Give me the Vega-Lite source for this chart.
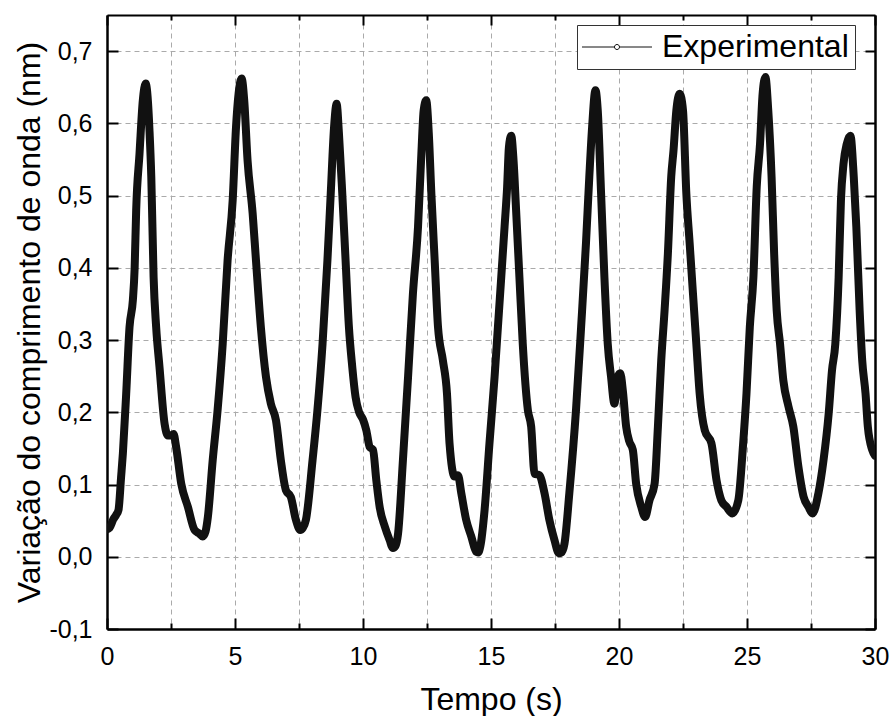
{
  "$schema": "https://vega.github.io/schema/vega-lite/v6.json",
  "width": 768,
  "height": 614,
  "autosize": "none",
  "padding": {"left": 107, "top": 15, "right": 15, "bottom": 87},
  "background": "white",
  "config": {
    "view": {"stroke": null},
    "font": "Liberation Sans",
    "axis": {"labelFont": "Liberation Sans", "titleFont": "Liberation Sans", "labelColor": "#000", "titleColor": "#000", "titleFontWeight": "normal"}
  },
  "data": {"values": [
    {"t":0.0,"v":0.038},{"t":0.1,"v":0.040},{"t":0.25,"v":0.052},{"t":0.36,"v":0.058},{"t":0.45,"v":0.065},{"t":0.55,"v":0.110},{"t":0.62,"v":0.143},{"t":0.75,"v":0.226},{"t":0.88,"v":0.318},{"t":1.01,"v":0.355},{"t":1.08,"v":0.40},{"t":1.14,"v":0.48},{"t":1.27,"v":0.558},{"t":1.40,"v":0.632},{"t":1.51,"v":0.655},{"t":1.60,"v":0.630},{"t":1.66,"v":0.59},{"t":1.73,"v":0.526},{"t":1.82,"v":0.387},{"t":1.92,"v":0.318},{"t":2.05,"v":0.263},{"t":2.25,"v":0.184},{"t":2.38,"v":0.168},{"t":2.50,"v":0.168},{"t":2.60,"v":0.170},{"t":2.70,"v":0.152},{"t":2.90,"v":0.101},{"t":3.16,"v":0.069},{"t":3.42,"v":0.037},{"t":3.61,"v":0.032},{"t":3.74,"v":0.028},{"t":3.85,"v":0.035},{"t":3.94,"v":0.055},{"t":4.13,"v":0.134},{"t":4.32,"v":0.203},{"t":4.52,"v":0.295},{"t":4.71,"v":0.41},{"t":4.91,"v":0.494},{"t":5.04,"v":0.595},{"t":5.14,"v":0.641},{"t":5.26,"v":0.662},{"t":5.36,"v":0.632},{"t":5.49,"v":0.549},{"t":5.69,"v":0.475},{"t":5.82,"v":0.41},{"t":6.01,"v":0.318},{"t":6.21,"v":0.249},{"t":6.40,"v":0.212},{"t":6.60,"v":0.189},{"t":6.79,"v":0.134},{"t":6.99,"v":0.092},{"t":7.18,"v":0.083},{"t":7.38,"v":0.051},{"t":7.55,"v":0.037},{"t":7.65,"v":0.040},{"t":7.77,"v":0.051},{"t":8.03,"v":0.134},{"t":8.22,"v":0.203},{"t":8.42,"v":0.295},{"t":8.61,"v":0.41},{"t":8.74,"v":0.503},{"t":8.87,"v":0.595},{"t":8.97,"v":0.627},{"t":9.06,"v":0.586},{"t":9.19,"v":0.503},{"t":9.32,"v":0.41},{"t":9.45,"v":0.318},{"t":9.58,"v":0.263},{"t":9.71,"v":0.221},{"t":9.85,"v":0.200},{"t":10.0,"v":0.190},{"t":10.13,"v":0.175},{"t":10.26,"v":0.152},{"t":10.39,"v":0.148},{"t":10.52,"v":0.106},{"t":10.65,"v":0.069},{"t":10.85,"v":0.042},{"t":11.04,"v":0.023},{"t":11.17,"v":0.012},{"t":11.27,"v":0.015},{"t":11.37,"v":0.032},{"t":11.56,"v":0.134},{"t":11.76,"v":0.249},{"t":11.95,"v":0.364},{"t":12.15,"v":0.457},{"t":12.28,"v":0.558},{"t":12.37,"v":0.618},{"t":12.47,"v":0.632},{"t":12.57,"v":0.586},{"t":12.67,"v":0.503},{"t":12.8,"v":0.41},{"t":12.93,"v":0.318},{"t":13.12,"v":0.272},{"t":13.28,"v":0.226},{"t":13.38,"v":0.157},{"t":13.58,"v":0.111},{"t":13.71,"v":0.113},{"t":13.84,"v":0.088},{"t":14.03,"v":0.051},{"t":14.23,"v":0.028},{"t":14.42,"v":0.007},{"t":14.5,"v":0.006},{"t":14.58,"v":0.014},{"t":14.75,"v":0.065},{"t":14.94,"v":0.157},{"t":15.14,"v":0.249},{"t":15.27,"v":0.318},{"t":15.4,"v":0.387},{"t":15.53,"v":0.457},{"t":15.63,"v":0.512},{"t":15.7,"v":0.567},{"t":15.79,"v":0.583},{"t":15.88,"v":0.549},{"t":15.98,"v":0.48},{"t":16.11,"v":0.387},{"t":16.24,"v":0.295},{"t":16.44,"v":0.203},{"t":16.57,"v":0.18},{"t":16.7,"v":0.115},{"t":16.89,"v":0.113},{"t":17.09,"v":0.088},{"t":17.28,"v":0.051},{"t":17.48,"v":0.023},{"t":17.65,"v":0.005},{"t":17.75,"v":0.006},{"t":17.87,"v":0.018},{"t":18.06,"v":0.088},{"t":18.32,"v":0.203},{"t":18.52,"v":0.318},{"t":18.71,"v":0.434},{"t":18.84,"v":0.526},{"t":18.95,"v":0.595},{"t":19.08,"v":0.646},{"t":19.17,"v":0.618},{"t":19.3,"v":0.503},{"t":19.43,"v":0.387},{"t":19.56,"v":0.295},{"t":19.69,"v":0.249},{"t":19.82,"v":0.212},{"t":19.95,"v":0.249},{"t":20.05,"v":0.254},{"t":20.15,"v":0.230},{"t":20.28,"v":0.180},{"t":20.4,"v":0.160},{"t":20.54,"v":0.148},{"t":20.67,"v":0.101},{"t":20.87,"v":0.069},{"t":21.02,"v":0.055},{"t":21.19,"v":0.078},{"t":21.39,"v":0.101},{"t":21.52,"v":0.18},{"t":21.65,"v":0.272},{"t":21.78,"v":0.341},{"t":21.91,"v":0.42},{"t":22.04,"v":0.526},{"t":22.13,"v":0.563},{"t":22.24,"v":0.618},{"t":22.37,"v":0.641},{"t":22.5,"v":0.618},{"t":22.63,"v":0.503},{"t":22.76,"v":0.434},{"t":22.89,"v":0.364},{"t":23.02,"v":0.295},{"t":23.15,"v":0.226},{"t":23.35,"v":0.175},{"t":23.61,"v":0.157},{"t":23.81,"v":0.106},{"t":24.0,"v":0.078},{"t":24.2,"v":0.069},{"t":24.43,"v":0.06},{"t":24.66,"v":0.078},{"t":24.85,"v":0.157},{"t":24.98,"v":0.226},{"t":25.11,"v":0.318},{"t":25.25,"v":0.387},{"t":25.38,"v":0.512},{"t":25.51,"v":0.572},{"t":25.61,"v":0.641},{"t":25.72,"v":0.664},{"t":25.83,"v":0.618},{"t":25.96,"v":0.526},{"t":26.06,"v":0.42},{"t":26.16,"v":0.341},{"t":26.29,"v":0.295},{"t":26.42,"v":0.244},{"t":26.62,"v":0.208},{"t":26.81,"v":0.18},{"t":27.01,"v":0.124},{"t":27.21,"v":0.083},{"t":27.4,"v":0.069},{"t":27.56,"v":0.06},{"t":27.79,"v":0.088},{"t":27.99,"v":0.134},{"t":28.19,"v":0.198},{"t":28.32,"v":0.258},{"t":28.45,"v":0.295},{"t":28.58,"v":0.387},{"t":28.67,"v":0.494},{"t":28.77,"v":0.544},{"t":28.9,"v":0.572},{"t":29.04,"v":0.583},{"t":29.17,"v":0.526},{"t":29.27,"v":0.457},{"t":29.4,"v":0.341},{"t":29.5,"v":0.272},{"t":29.63,"v":0.226},{"t":29.72,"v":0.18},{"t":29.89,"v":0.148},{"t":30.0,"v":0.14}
  ]},
  "transform": [{"calculate": "'Experimental'", "as": "serie"}],
  "layer": [
    {
      "mark": {"type": "line", "strokeWidth": 8, "strokeJoin": "round", "strokeCap": "round", "interpolate": "monotone", "clip": true},
      "encoding": {
        "x": {"field": "t", "type": "quantitative", "scale": {"domain": [0, 30], "nice": false, "zero": false},
          "axis": {"orient": "bottom", "values": [0,2.5,5,7.5,10,12.5,15,17.5,20,22.5,25,27.5,30], "labelExpr": "datum.value % 5 === 0 ? format(datum.value, 'd') : ''",
            "tickSize": {"condition": {"test": "datum.value % 5 === 0", "value": -11}, "value": -6},
            "tickColor": "#000", "tickWidth": 2, "labelPadding": 26, "labelFontSize": 25, "labelFlush": false,
            "domainColor": "#000", "domainWidth": 2.5, "grid": true, "gridColor": "#aaaaaa", "gridDash": [5, 4], "gridWidth": 1,
            "title": "Tempo (s)", "titleFontSize": 32, "titlePadding": 15}},
        "y": {"field": "v", "type": "quantitative", "scale": {"domain": [-0.1, 0.75], "nice": false, "zero": false},
          "axis": {"orient": "left", "values": [-0.1,0,0.1,0.2,0.3,0.4,0.5,0.6,0.7], "labelExpr": "replace(replace(format(datum.value, '.1f'), '.', ','), '\u2212', '-')",
            "tickSize": -11, "tickColor": "#000", "tickWidth": 2, "labelPadding": 26, "labelFontSize": 25, "labelFlush": false,
            "domainColor": "#000", "domainWidth": 2.5, "grid": true, "gridColor": "#aaaaaa", "gridDash": [5, 4], "gridWidth": 1,
            "title": "Variação do comprimento de onda (nm)", "titleFontSize": 32, "titlePadding": 2}},
        "color": {"field": "serie", "type": "nominal", "scale": {"range": ["#111111"]},
          "legend": {"orient": "none", "legendX": 470, "legendY": 10, "title": null, "strokeColor": "#333", "fillColor": "white", "padding": 6,
            "symbolType": "M-2.43,0L2.21,0M2.93,0L7.57,0M2.93,0A0.36,0.36 0 1 1 2.21,0A0.36,0.36 0 1 1 2.93,0",
            "symbolSize": 196, "symbolStrokeWidth": 1, "symbolStrokeColor": "#000", "symbolFillColor": "white",
            "labelFontSize": 32, "labelFont": "Liberation Sans", "labelColor": "#000", "labelOffset": 47, "labelLimit": 400}}
      }
    },
    {
      "mark": {"type": "line", "opacity": 0, "interpolate": "monotone"},
      "encoding": {
        "x": {"field": "t", "type": "quantitative",
          "axis": {"orient": "top", "values": [0,2.5,5,7.5,10,12.5,15,17.5,20,22.5,25,27.5,30], "labels": false, "title": null, "grid": false,
            "tickSize": {"condition": {"test": "datum.value % 5 === 0", "value": -10}, "value": -5},
            "tickColor": "#000", "tickWidth": 2, "domainColor": "#000", "domainWidth": 2}},
        "y": {"field": "v", "type": "quantitative",
          "axis": {"orient": "right", "values": [-0.1,0,0.1,0.2,0.3,0.4,0.5,0.6,0.7], "labels": false, "title": null, "grid": false,
            "tickSize": -10, "tickColor": "#000", "tickWidth": 2, "domainColor": "#000", "domainWidth": 2.5}}
      }
    }
  ],
  "resolve": {"axis": {"x": "independent", "y": "independent"}}
}
